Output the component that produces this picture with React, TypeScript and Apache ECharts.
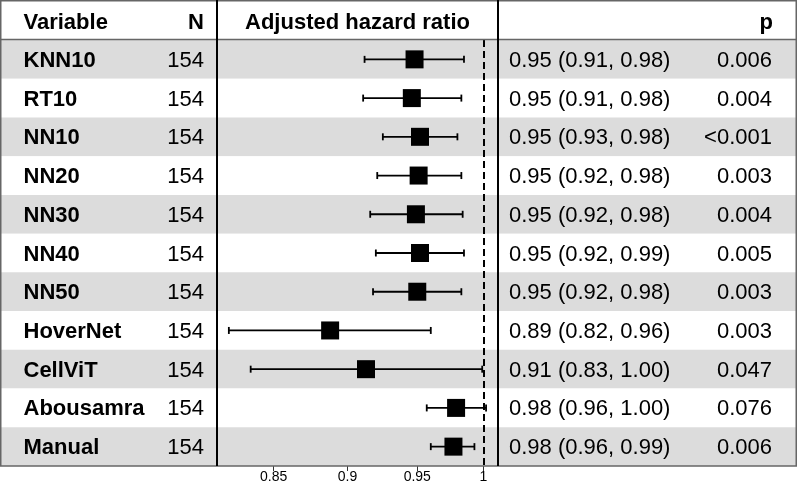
import React, { useEffect, useRef } from "react";
import * as echarts from "echarts";

const variables = ["KNN10", "RT10", "NN10", "NN20", "NN30", "NN40", "NN50", "HoverNet", "CellViT", "Abousamra", "Manual"];
const nValues = [154, 154, 154, 154, 154, 154, 154, 154, 154, 154, 154];
const hrValues = [0.948, 0.946, 0.952, 0.951, 0.949, 0.952, 0.950, 0.888, 0.913, 0.979, 0.977];
const lowerValues = [0.912, 0.911, 0.925, 0.921, 0.916, 0.920, 0.918, 0.821, 0.835, 0.957, 0.960];
const upperValues = [0.985, 0.983, 0.980, 0.983, 0.984, 0.985, 0.983, 0.960, 0.999, 1.002, 0.993];
const hrTexts = [
  "0.95 (0.91, 0.98)",
  "0.95 (0.91, 0.98)",
  "0.95 (0.93, 0.98)",
  "0.95 (0.92, 0.98)",
  "0.95 (0.92, 0.98)",
  "0.95 (0.92, 0.99)",
  "0.95 (0.92, 0.98)",
  "0.89 (0.82, 0.96)",
  "0.91 (0.83, 1.00)",
  "0.98 (0.96, 1.00)",
  "0.98 (0.96, 0.99)",
];
const pTexts = ["0.006", "0.004", "<0.001", "0.003", "0.004", "0.005", "0.003", "0.003", "0.047", "0.076", "0.006"];
const tickValues = [0.85, 0.9, 0.95, 1];
const axisMin = 0.8135;
const axisMax = 1.0113;
const headers = { variable: "Variable", n: "N", hr: "Adjusted hazard ratio", p: "p" };

const FONT = '"Liberation Sans", Arial, Helvetica, sans-serif';
const W = 797;
const H = 485;
const TOP = 40;
const BOTTOM_Y = 466;
const PANEL_L = 217;
const PANEL_R = 498;

export default function App() {
  const ref = useRef<HTMLDivElement>(null);
  useEffect(() => {
    if (!ref.current) return;
    const chart = echarts.init(ref.current, null, { renderer: "svg" });
    const idx = variables.map((_, i) => i);

    const textSeries = (name: string, x: number, texts: string[], align: string, bold: boolean) => ({
      type: "scatter",
      name,
      xAxisIndex: 0,
      yAxisIndex: 0,
      symbolSize: 1,
      itemStyle: { color: "rgba(0,0,0,0)", opacity: 1 },
      silent: true,
      data: texts.map((t, i) => ({ value: [x, i], label: { formatter: t } })),
      label: {
        show: true,
        position: "inside",
        align,
        verticalAlign: "middle",
        color: "#000",
        opacity: 1,
        fontFamily: FONT,
        fontSize: 22,
        fontWeight: bold ? "bold" : "normal",
      },
      z: 5,
    });

    const option: any = {
      animation: false,
      grid: [
        { left: 0, right: 0, top: TOP, bottom: H - BOTTOM_Y },
        { left: PANEL_L, right: W - PANEL_R, top: TOP, bottom: H - BOTTOM_Y },
      ],
      xAxis: [
        { gridIndex: 0, type: "value", min: 0, max: W, show: false },
        {
          gridIndex: 1,
          type: "value",
          min: Math.log(axisMin),
          max: Math.log(axisMax),
          axisLine: { show: false },
          splitLine: { show: false },
          axisTick: {
            show: true,
            length: 5,
            customValues: tickValues.map((v) => Math.log(v)),
            lineStyle: { color: "#333", width: 1 },
          },
          axisLabel: {
            show: true,
            customValues: tickValues.map((v) => Math.log(v)),
            formatter: (v: number) => String(parseFloat(Math.exp(v).toFixed(2))),
            color: "#000",
            fontFamily: FONT,
            fontSize: 14,
            margin: 3,
          },
        },
      ],
      yAxis: [
        {
          gridIndex: 0,
          type: "category",
          inverse: true,
          data: variables,
          axisLine: { show: false },
          axisTick: { show: false },
          axisLabel: { show: false },
          splitLine: { show: false },
          splitArea: { show: true, interval: 0, areaStyle: { color: ["#dcdcdc", "#ffffff"] } },
        },
        {
          gridIndex: 1,
          type: "category",
          inverse: true,
          data: variables,
          show: false,
        },
      ],
      series: [
        textSeries("variable", 23.5, variables, "left", true),
        textSeries("n", 204, nValues.map(String), "right", false),
        textSeries("hrText", 509, hrTexts, "left", false),
        textSeries("p", 772, pTexts, "right", false),
        {
          type: "custom",
          name: "ci",
          xAxisIndex: 1,
          yAxisIndex: 1,
          encode: { x: [0, 1], y: 2 },
          data: idx.map((i) => [Math.log(lowerValues[i]), Math.log(upperValues[i]), i]),
          renderItem: (params: any, api: any) => {
            const y = api.value(2);
            const a = api.coord([api.value(0), y]);
            const b = api.coord([api.value(1), y]);
            const h = 3.5;
            const style = { stroke: "#000", lineWidth: 1.8 };
            return {
              type: "group",
              children: [
                { type: "line", shape: { x1: a[0], y1: a[1], x2: b[0], y2: b[1] }, style },
                { type: "line", shape: { x1: a[0], y1: a[1] - h, x2: a[0], y2: a[1] + h }, style },
                { type: "line", shape: { x1: b[0], y1: b[1] - h, x2: b[0], y2: b[1] + h }, style },
              ],
            };
          },
          z: 3,
        },
        {
          type: "scatter",
          name: "hr",
          xAxisIndex: 1,
          yAxisIndex: 1,
          symbol: "rect",
          symbolSize: 18,
          itemStyle: { color: "#000", opacity: 1 },
          data: idx.map((i) => [Math.log(hrValues[i]), i]),
          markLine: {
            silent: true,
            symbol: "none",
            label: { show: false },
            lineStyle: { color: "#000", width: 2, type: [7, 4], opacity: 1 },
            data: [{ xAxis: 0 }],
          },
          z: 4,
        },
      ],
      graphic: [
        {
          type: "rect",
          shape: { x: 0.75, y: 0.75, width: W - 1.5, height: BOTTOM_Y - 0.75 },
          style: { fill: "none", stroke: "#666", lineWidth: 1.5 },
          z: 10,
        },
        {
          type: "line",
          shape: { x1: 0, y1: 39.5, x2: W, y2: 39.5 },
          style: { stroke: "#666", lineWidth: 1.5 },
          z: 10,
        },
        {
          type: "line",
          shape: { x1: PANEL_L, y1: 0, x2: PANEL_L, y2: BOTTOM_Y },
          style: { stroke: "#000", lineWidth: 2 },
          z: 11,
        },
        {
          type: "line",
          shape: { x1: PANEL_R, y1: 0, x2: PANEL_R, y2: BOTTOM_Y },
          style: { stroke: "#000", lineWidth: 2 },
          z: 11,
        },
        {
          type: "text",
          x: 23.5,
          y: 21,
          style: { text: headers.variable, font: `bold 22px ${FONT}`, fill: "#000", textAlign: "left", textVerticalAlign: "middle" },
          z: 12,
        },
        {
          type: "text",
          x: 204,
          y: 21,
          style: { text: headers.n, font: `bold 22px ${FONT}`, fill: "#000", textAlign: "right", textVerticalAlign: "middle" },
          z: 12,
        },
        {
          type: "text",
          x: (PANEL_L + PANEL_R) / 2,
          y: 21,
          style: { text: headers.hr, font: `bold 22px ${FONT}`, fill: "#000", textAlign: "center", textVerticalAlign: "middle" },
          z: 12,
        },
        {
          type: "text",
          x: 773,
          y: 21,
          style: { text: headers.p, font: `bold 22px ${FONT}`, fill: "#000", textAlign: "right", textVerticalAlign: "middle" },
          z: 12,
        },
      ],
    };
    chart.setOption(option);
    return () => chart.dispose();
  }, []);
  return <div ref={ref} style={{ position: "fixed", left: 0, top: 0, width: W, height: H }} />;
}
